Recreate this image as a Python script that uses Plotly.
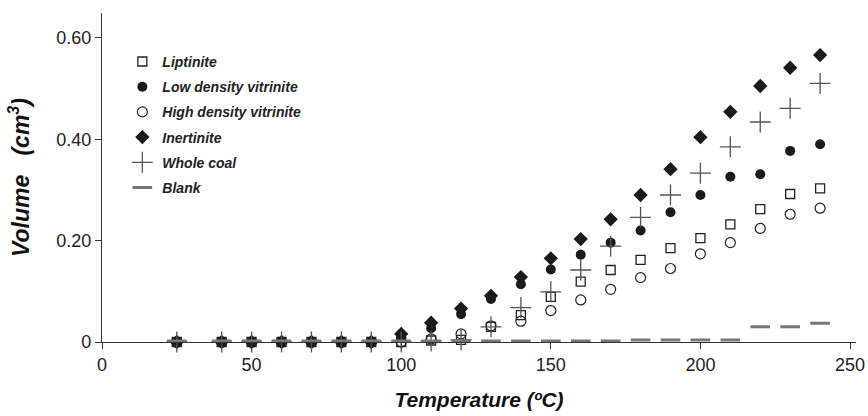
import plotly.graph_objects as go

temps = [25, 40, 50, 60, 70, 80, 90, 100, 110, 120, 130, 140, 150, 160, 170, 180, 190, 200, 210, 220, 230, 240]

liptinite = [0.0, 0.0, 0.0, 0.0, 0.0, 0.0, 0.0, 0.0, 0.003, 0.004, 0.030, 0.053, 0.089, 0.119, 0.142, 0.162, 0.185, 0.205, 0.232, 0.262, 0.292, 0.303]
low_density = [0.0, 0.0, 0.0, 0.0, 0.0, 0.0, 0.0, 0.010, 0.027, 0.055, 0.085, 0.114, 0.143, 0.172, 0.196, 0.220, 0.256, 0.290, 0.326, 0.331, 0.377, 0.390]
high_density = [0.0, 0.0, 0.0, 0.0, 0.0, 0.0, 0.0, 0.0, 0.006, 0.016, 0.032, 0.041, 0.062, 0.083, 0.104, 0.127, 0.145, 0.174, 0.196, 0.224, 0.252, 0.264]
inertinite = [0.0, 0.0, 0.0, 0.0, 0.0, 0.0, 0.0, 0.016, 0.038, 0.066, 0.091, 0.128, 0.165, 0.203, 0.242, 0.290, 0.341, 0.404, 0.454, 0.505, 0.541, 0.566]
whole_coal = [0.0, 0.0, 0.0, 0.0, 0.0, 0.0, 0.0, 0.0, 0.002, 0.004, 0.030, 0.068, 0.099, 0.142, 0.189, 0.246, 0.290, 0.333, 0.385, 0.434, 0.461, 0.510]
blank = [0.002, 0.002, 0.002, 0.002, 0.002, 0.002, 0.002, 0.002, 0.002, 0.002, 0.002, 0.002, 0.002, 0.002, 0.002, 0.004, 0.004, 0.004, 0.004, 0.030, 0.030, 0.037]

x_ticks = [0, 50, 100, 150, 200, 250]
y_ticks = [0, 0.2, 0.4, 0.6]
y_tick_labels = ["0", "0.20", "0.40", "0.60"]

series = [
    ("Liptinite", liptinite, dict(symbol="square-open", size=9, color="#222", line=dict(width=1.3, color="#222"))),
    ("Low density vitrinite", low_density, dict(symbol="circle", size=10, color="#1a1a1a", line=dict(width=0))),
    ("High density vitrinite", high_density, dict(symbol="circle-open", size=10, color="#222", line=dict(width=1.2, color="#222"))),
    ("Inertinite", inertinite, dict(symbol="diamond", size=11, color="#1a1a1a", line=dict(width=0))),
    ("Whole coal", whole_coal, dict(symbol="cross-thin", size=15, color="#555", line=dict(width=1.3, color="#555"))),
    ("Blank", blank, dict(symbol="line-ew", size=14, color="#777", line=dict(width=3, color="#777"))),
]

fig = go.Figure()
for i, (name, vals, mk) in enumerate(series):
    fig.add_trace(go.Scatter(
        x=temps, y=vals, mode="markers", name=name, marker=mk,
        cliponaxis=False, legendgroup="g%d" % i,
    ))

fig.update_layout(
    width=868, height=416,
    margin=dict(l=102, r=12, t=13, b=74),
    paper_bgcolor="white", plot_bgcolor="white",
    font=dict(family="Liberation Sans, Arial, sans-serif", color="#222"),
    showlegend=True,
    legend=dict(
        x=0.027, y=0.90, xanchor="left", yanchor="top",
        bgcolor="rgba(0,0,0,0)",
        font=dict(size=14, style="italic", weight="bold", color="#222"),
        traceorder="grouped", tracegroupgap=4,
        itemwidth=30,
    ),
    xaxis=dict(
        range=[0, 252], tickvals=x_ticks, showgrid=False, zeroline=False,
        showline=True, linecolor="#333", linewidth=1.3,
        ticks="outside", ticklen=6, tickcolor="#333",
        tickfont=dict(size=18, color="#222"), automargin=False,
        title=dict(text="<b><i>Temperature (ºC)</i></b>", font=dict(size=21, color="#111"), standoff=18),
    ),
    yaxis=dict(
        range=[0, 0.649], tickvals=y_ticks, ticktext=y_tick_labels,
        showgrid=False, zeroline=False,
        showline=True, linecolor="#333", linewidth=1.3,
        ticks="outside", ticklen=6, tickcolor="#333",
        tickfont=dict(size=18, color="#222"), automargin=False,
        title=dict(text="<b><i>Volume   (cm<sup>3</sup>)</i></b>", font=dict(size=23, color="#111"), standoff=20),
    ),
)

fig.write_html(
    "out.html",
    config={"displayModeBar": False},
    post_script="document.body.style.margin='0';document.body.style.overflow='hidden';",
)
